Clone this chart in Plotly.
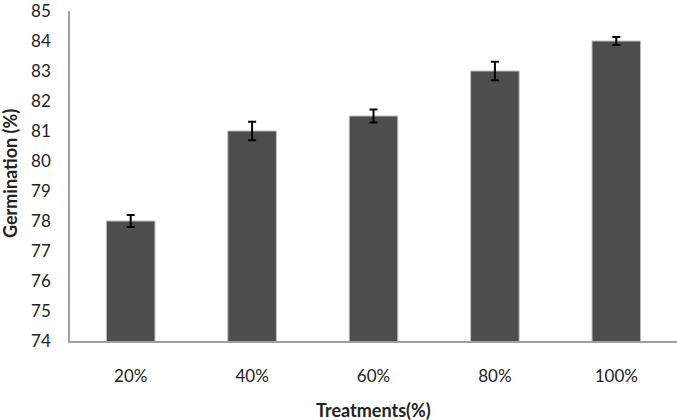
import plotly.graph_objects as go

categories = ["20%", "40%", "60%", "80%", "100%"]
germination = [78.0, 81.0, 81.5, 83.0, 84.0]
errors = [0.2, 0.31, 0.22, 0.31, 0.13]
y_ticks = list(range(74, 86))

fig = go.Figure()
fig.add_trace(go.Bar(
    x=categories, y=germination,
    marker=dict(color="#4d4d4d", line=dict(color="#bdbdbd", width=1)),
    width=0.4,
    error_y=dict(type="data", array=errors, visible=True, color="black",
                 thickness=2, width=4),
))

font_family = "Lato, 'Open Sans', sans-serif"
L, R, T, B = 70, 0, 11, 79
W, H = 677, 420
plot_h = H - T - B
plot_w = W - L - R

fig.update_layout(
    width=W, height=H,
    margin=dict(l=L, r=R, t=T, b=B, pad=0, autoexpand=False),
    plot_bgcolor="white", paper_bgcolor="white",
    showlegend=False,
    font=dict(family=font_family, size=17, color="#222222"),
    xaxis=dict(showline=True, linecolor="#a0a0a0", linewidth=1.5,
               ticks="", showgrid=False, ticklabelstandoff=19,
               automargin=False, tickfont=dict(size=17)),
    yaxis=dict(range=[74, 85.0001], tickvals=y_ticks, showline=True,
               linecolor="#a0a0a0", linewidth=1.5, ticks="", showgrid=False,
               zeroline=False, ticklabelstandoff=14, automargin=False,
               ticklabeloverflow="allow", tickfont=dict(size=17)),
    annotations=[
        dict(text="<b>Treatments(%)</b>", x=0.5, y=(H - B - 410) / plot_h,
             xref="paper", yref="paper", xanchor="center", yanchor="middle",
             showarrow=False, font=dict(size=18)),
        dict(text="<b>Germination (%)</b>", x=(10 - L) / plot_w,
             y=(H - B - 174) / plot_h, xanchor="center", yanchor="middle",
             xref="paper", yref="paper", showarrow=False, textangle=-90,
             font=dict(size=18)),
    ],
)

fig.write_html("out.html", config={"displayModeBar": False},
               post_script="document.body.style.margin='0';")
